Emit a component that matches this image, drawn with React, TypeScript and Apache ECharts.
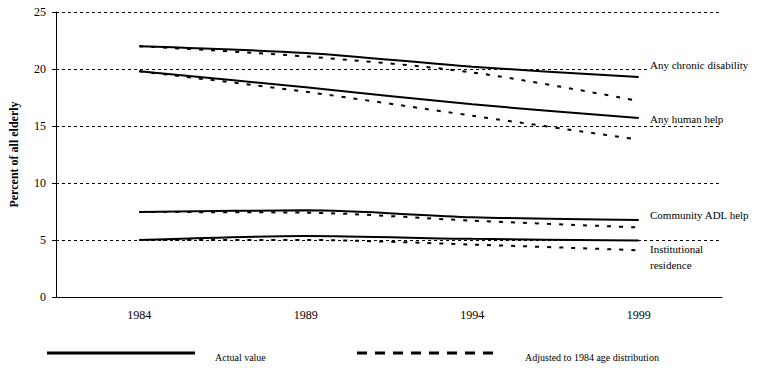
import React, { useEffect, useRef } from "react";
import * as echarts from "echarts";

const years = ["1984", "1989", "1994", "1999"];
const chronicActual = [22.0, 21.4, 20.2, 19.3];
const chronicAdjusted = [22.0, 21.1, 19.7, 17.2];
const humanActual = [19.8, 18.4, 16.9, 15.7];
const humanAdjusted = [19.8, 18.0, 15.9, 13.8];
const adlActual = [7.45, 7.6, 7.0, 6.75];
const adlAdjusted = [7.45, 7.4, 6.7, 6.1];
const instActual = [5.0, 5.35, 5.1, 4.95];
const instAdjusted = [5.0, 5.0, 4.6, 4.1];
const seriesLabels = ["Any chronic disability", "Any human help", "Community ADL help", "Institutional\nresidence"];
const legendLabels = ["Actual value", "Adjusted to 1984 age distribution"];
const yTicks = [0, 5, 10, 15, 20, 25];

const FONT = "'Liberation Serif', 'Times New Roman', serif";

export default function App() {
  const ref = useRef<HTMLDivElement>(null);
  useEffect(() => {
    document.body.style.margin = "0";
    if (!ref.current) return;
    const chart = echarts.init(ref.current, null, { renderer: "svg" });
    const solid = (name: string, data: number[]) => ({
      name, type: "line", data, smooth: 0.3, symbol: "none",
      lineStyle: { color: "#000", width: 2, type: "solid" },
    });
    const dotted = (name: string, data: number[]) => ({
      name, type: "line", data, smooth: 0.3, symbol: "none",
      lineStyle: { color: "#000", width: 2, type: [4, 8] },
    });
    chart.setOption({
      animation: false,
      backgroundColor: "#fff",
      textStyle: { fontFamily: FONT },
      grid: { left: 52, right: 40, top: 12, bottom: 76 },
      xAxis: {
        type: "category", data: years, boundaryGap: true,
        axisLine: { lineStyle: { color: "#000", width: 1 } },
        axisTick: { show: false },
        axisLabel: { color: "#000", fontFamily: FONT, fontSize: 12, margin: 12 },
      },
      yAxis: {
        type: "value", min: yTicks[0], max: yTicks[yTicks.length - 1], interval: 5,
        name: "Percent of all elderly", nameLocation: "middle", nameGap: 36,
        nameTextStyle: { color: "#000", fontFamily: FONT, fontSize: 12, fontWeight: "bold" },
        axisLine: { show: true, lineStyle: { color: "#000", width: 1 } },
        axisTick: { show: true, length: 4, lineStyle: { color: "#000" } },
        axisLabel: { color: "#000", fontFamily: FONT, fontSize: 12, margin: 10 },
        splitLine: { show: true, lineStyle: { color: "#000", width: 1, type: [3, 3] } },
      },
      series: [
        solid("Any chronic disability (actual)", chronicActual),
        dotted("Any chronic disability (adjusted)", chronicAdjusted),
        solid("Any human help (actual)", humanActual),
        dotted("Any human help (adjusted)", humanAdjusted),
        solid("Community ADL help (actual)", adlActual),
        dotted("Community ADL help (adjusted)", adlAdjusted),
        solid("Institutional residence (actual)", instActual),
        dotted("Institutional residence (adjusted)", instAdjusted),
      ],
      graphic: [
        { type: "text", left: 650, top: 59, z: 10, style: { text: seriesLabels[0], font: `11px ${FONT}`, fill: "#000", backgroundColor: "#fff" } },
        { type: "text", left: 650, top: 113, z: 10, style: { text: seriesLabels[1], font: `11px ${FONT}`, fill: "#000", backgroundColor: "#fff" } },
        { type: "text", left: 650, top: 209, z: 10, style: { text: seriesLabels[2], font: `11px ${FONT}`, fill: "#000" } },
        { type: "text", left: 650, top: 241, z: 10, style: { text: seriesLabels[3], font: `11px ${FONT}`, fill: "#000", lineHeight: 16 } },
        { type: "line", shape: { x1: 47, y1: 353, x2: 195, y2: 353 }, style: { stroke: "#000", lineWidth: 3 } },
        { type: "text", left: 215, top: 352, style: { text: legendLabels[0], font: `10px ${FONT}`, fill: "#000" } },
        { type: "line", shape: { x1: 357, y1: 353, x2: 497, y2: 353 }, style: { stroke: "#000", lineWidth: 3, lineDash: [10, 8] } },
        { type: "text", left: 525, top: 352, style: { text: legendLabels[1], font: `10px ${FONT}`, fill: "#000" } },
      ],
    });
    return () => chart.dispose();
  }, []);
  return <div ref={ref} style={{ width: 762, height: 373 }} />;
}
